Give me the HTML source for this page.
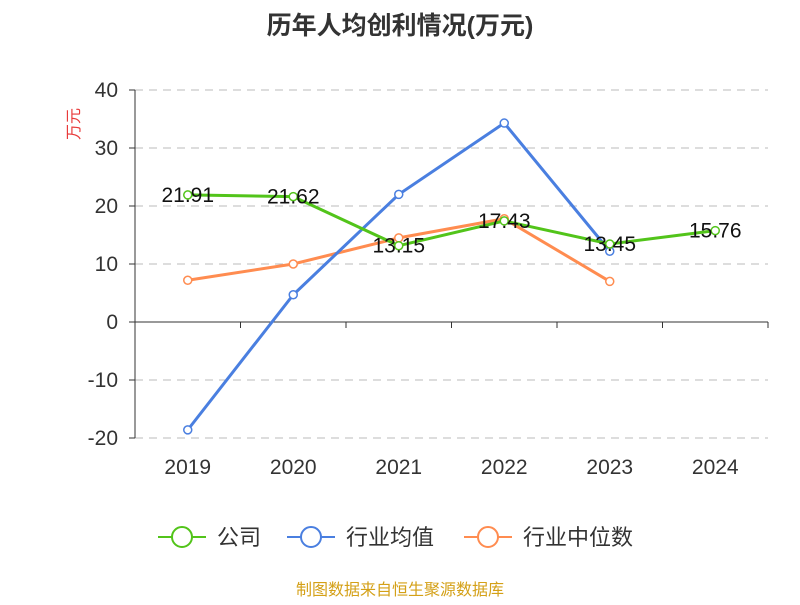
<!DOCTYPE html>
<html><head><meta charset="utf-8"><style>
body{margin:0;background:#fff;font-family:"Liberation Sans","Noto Sans CJK SC",sans-serif}
</style></head><body>
<svg id="chart" width="800" height="600" xmlns="http://www.w3.org/2000/svg">
<text x="400" y="34" text-anchor="middle" font-size="25" font-weight="bold" fill="#333" font-family="Liberation Sans,Noto Sans CJK SC,sans-serif">历年人均创利情况(万元)</text>
<text x="0" y="0" transform="translate(79,124) rotate(-90)" text-anchor="middle" font-size="16" fill="#e83a3a" font-family="Liberation Sans,Noto Sans CJK SC,sans-serif">万元</text>
<g id="grid"></g><g id="axes"></g><g id="series"></g>
<g font-size="22" fill="#333" font-family="Liberation Sans,Noto Sans CJK SC,sans-serif">
<g><line x1="158" y1="537" x2="206" y2="537" stroke="#52c41a" stroke-width="2"/><circle cx="182" cy="537" r="10" fill="#fff" stroke="#52c41a" stroke-width="2"/><text x="217" y="545">公司</text></g>
<g><line x1="287" y1="537" x2="335" y2="537" stroke="#4a7fe0" stroke-width="2"/><circle cx="311" cy="537" r="10" fill="#fff" stroke="#4a7fe0" stroke-width="2"/><text x="346" y="545">行业均值</text></g>
<g><line x1="464" y1="537" x2="512" y2="537" stroke="#ff8c50" stroke-width="2"/><circle cx="488" cy="537" r="10" fill="#fff" stroke="#ff8c50" stroke-width="2"/><text x="523" y="545">行业中位数</text></g>
</g>
<text x="400" y="595" text-anchor="middle" font-size="16" fill="#d4a017" font-family="Liberation Sans,Noto Sans CJK SC,sans-serif">制图数据来自恒生聚源数据库</text>
</svg>
<script>
const categories=["2019","2020","2021","2022","2023","2024"];
const companyValues=[21.91,21.62,13.15,17.43,13.45,15.76];
const avgValues=[-18.6,4.7,22.0,34.3,12.2,null];
const medianValues=[7.2,10.0,14.5,17.8,7.0,null];
const yTicks=[-20,-10,0,10,20,30,40];
const NS="http://www.w3.org/2000/svg";
const X0=135,X1=768,Ypx=5.8;
const band=(X1-X0)/categories.length;
const xs=i=>X0+band*(i+0.5);
const ys=v=>322-v*Ypx;
function mk(tag,attrs,parent){const e=document.createElementNS(NS,tag);for(const k in attrs)e.setAttribute(k,attrs[k]);parent.appendChild(e);return e;}
const grid=document.getElementById('grid'),axes=document.getElementById('axes'),series=document.getElementById('series');
yTicks.forEach(t=>{
 if(t!==0){const l=mk('line',{x1:X0,x2:X1,y1:ys(t),y2:ys(t),stroke:'#bbb','stroke-dasharray':'8,6'},grid);
 
 }
 const tx=mk('text',{x:118,y:ys(t)+7,'text-anchor':'end','font-size':21,fill:'#333'},axes);tx.textContent=t;
 
 
});
const ya=mk('line',{x1:X0,x2:X0,y1:ys(40),y2:ys(-20),stroke:'#333'},axes);


const xa=mk('line',{x1:X0,x2:X1,y1:ys(0),y2:ys(0),stroke:'#333'},axes);


yTicks.forEach(t=>{mk('line',{x1:X0-6,x2:X0,y1:ys(t),y2:ys(t),stroke:'#333'},axes);});
for(let i=0;i<=categories.length;i++)mk('line',{x1:X0+band*i,x2:X0+band*i,y1:ys(0),y2:ys(0)+6,stroke:'#333'},axes);
categories.forEach((c,i)=>{const t=mk('text',{x:xs(i),y:474,'text-anchor':'middle','font-size':21,fill:'#333'},axes);t.textContent=c;
 
 });
function drawSeries(vals,color,name,labels){
 const g=mk('g',{},series);
 
 
 const pts=[];vals.forEach((v,i)=>{if(v!==null)pts.push([xs(i),ys(v),v]);});
 mk('polyline',{points:pts.map(p=>p[0]+','+p[1]).join(' '),fill:'none',stroke:color,'stroke-width':3},g);
 pts.forEach(p=>{const c=mk('circle',{cx:p[0],cy:p[1],r:4,fill:'#fff',stroke:color,'stroke-width':1.5},g);
  
  
  if(labels){const t=mk('text',{x:p[0],y:p[1]+7,'text-anchor':'middle','font-size':21,fill:'#111'},g);t.textContent=p[2].toFixed(2);
   
   }
 });
}
drawSeries(medianValues,'#ff8c50','series-industry-median',false);
drawSeries(avgValues,'#4a7fe0','series-industry-avg',false);
drawSeries(companyValues,'#52c41a','series-company',true);
</script>
</body></html>
